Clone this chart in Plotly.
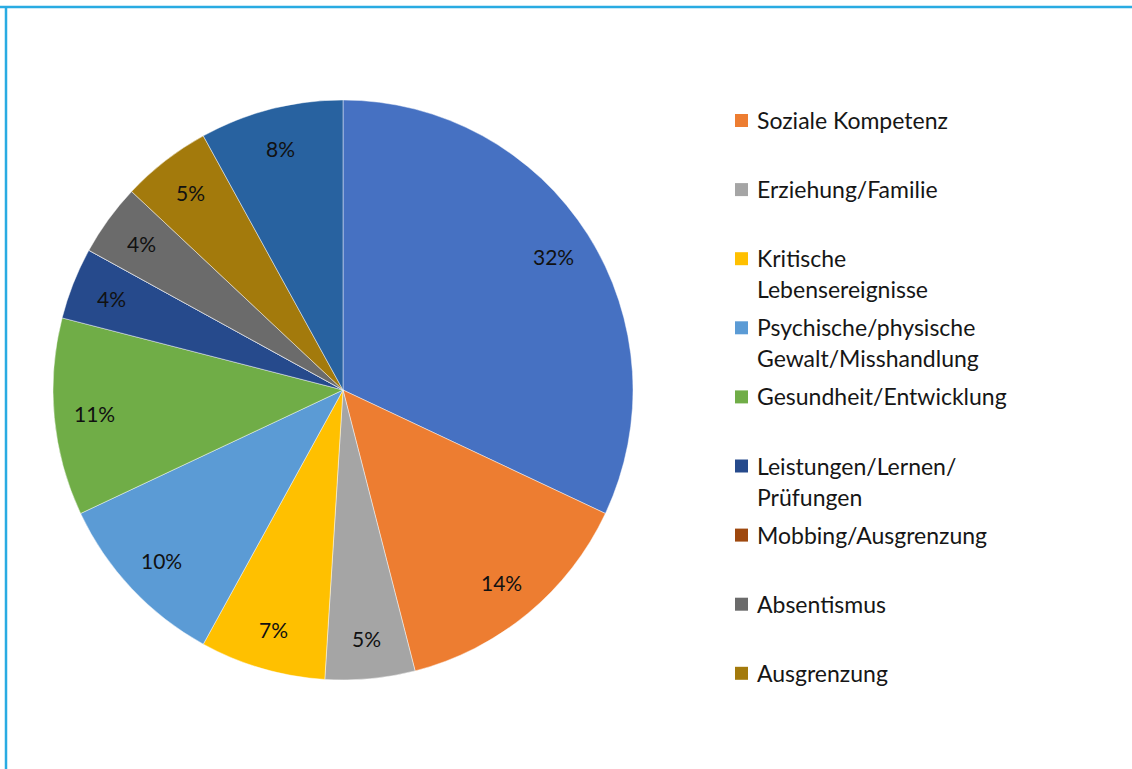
import math
import plotly.graph_objects as go

# Slices clockwise from 12 o'clock; first and last slice have no legend entry in the source
SLICE_LABELS = [
    "Slice A",
    "Soziale Kompetenz",
    "Erziehung/Familie",
    "Kritische Lebensereignisse",
    "Psychische/physische Gewalt/Misshandlung",
    "Gesundheit/Entwicklung",
    "Leistungen/Lernen/Prüfungen",
    "Mobbing/Ausgrenzung",
    "Absentismus",
    "Ausgrenzung",
    "Slice B",
]
SLICE_VALUES = [32, 14, 5, 7, 10, 11, 4, 0, 4, 5, 8]
SLICE_COLORS = [
    "#4671C2", "#ED7D31", "#A5A5A5", "#FFC000", "#5B9BD5", "#70AD47",
    "#264A8C", "#9E480E", "#6B6B6B", "#A37A0C", "#2862A0",
]

LEGEND_TEXT = [
    ["Soziale Kompetenz"],
    ["Erziehung/Familie"],
    ["Kritische", "Lebensereignisse"],
    ["Psychische/physische", "Gewalt/Misshandlung"],
    ["Gesundheit/Entwicklung"],
    ["Leistungen/Lernen/", "Prüfungen"],
    ["Mobbing/Ausgrenzung"],
    ["Absentismus"],
    ["Ausgrenzung"],
]
LEGEND_COLORS = SLICE_COLORS[1:10]

W, H = 1132, 769
FONT = "Lato"
CX, CY, R = 343, 390, 290  # pie centre / radius in px

fig = go.Figure(
    go.Pie(
        labels=SLICE_LABELS,
        values=SLICE_VALUES,
        textinfo="none",
        marker=dict(colors=SLICE_COLORS, line=dict(color="rgba(255,255,255,0.45)", width=1)),
        sort=False,
        direction="clockwise",
        rotation=0,
        showlegend=False,
        domain=dict(x=[(CX - R) / W, (CX + R) / W], y=[1 - (CY + R) / H, 1 - (CY - R) / H]),
    )
)

annotations = []

# percent labels, placed towards the rim like Excel's best fit
total = sum(SLICE_VALUES)
cum = 0
for v in SLICE_VALUES:
    mid = (cum + v / 2) / total * 2 * math.pi
    cum += v
    if not v:
        continue
    px_ = CX + 0.86 * R * math.sin(mid)
    py_ = CY - 0.86 * R * math.cos(mid)
    annotations.append(dict(
        text=f"{v}%", xref="paper", yref="paper", x=px_ / W, y=1 - py_ / H,
        xanchor="center", yanchor="middle", showarrow=False,
        font=dict(family=FONT, size=21, color="#111111"),
    ))

# legend built by hand: fixed slot height like the original
shapes = []
slot, line_h = 69.1, 31
for i, (lines, col) in enumerate(zip(LEGEND_TEXT, LEGEND_COLORS)):
    yc = 120 + i * slot
    shapes.append(dict(
        type="rect", xref="paper", yref="paper",
        x0=735 / W, x1=748 / W, y0=1 - (yc + 7) / H, y1=1 - (yc - 6) / H,
        fillcolor=col, line=dict(width=0),
    ))
    for j, txt in enumerate(lines):
        annotations.append(dict(
            text=txt, xref="paper", yref="paper",
            x=755 / W, y=1 - (yc + j * line_h) / H,
            xanchor="left", yanchor="middle", showarrow=False,
            font=dict(family=FONT, size=23, color="#161616"),
        ))

# light blue frame on top and left edge
shapes.append(dict(type="line", xref="paper", yref="paper", x0=0, x1=1, y0=1 - 7 / H, y1=1 - 7 / H,
                   line=dict(color="#29ABE2", width=2.5)))
shapes.append(dict(type="line", xref="paper", yref="paper", x0=6 / W, x1=6 / W, y0=0, y1=1 - 7 / H,
                   line=dict(color="#29ABE2", width=2.5)))

fig.update_layout(
    width=W,
    height=H,
    margin=dict(l=0, r=0, t=0, b=0),
    paper_bgcolor="white",
    shapes=shapes,
    annotations=annotations,
)

fig.write_html(
    "out.html",
    config={"displayModeBar": False},
    post_script="document.body.style.margin='0';",
)
